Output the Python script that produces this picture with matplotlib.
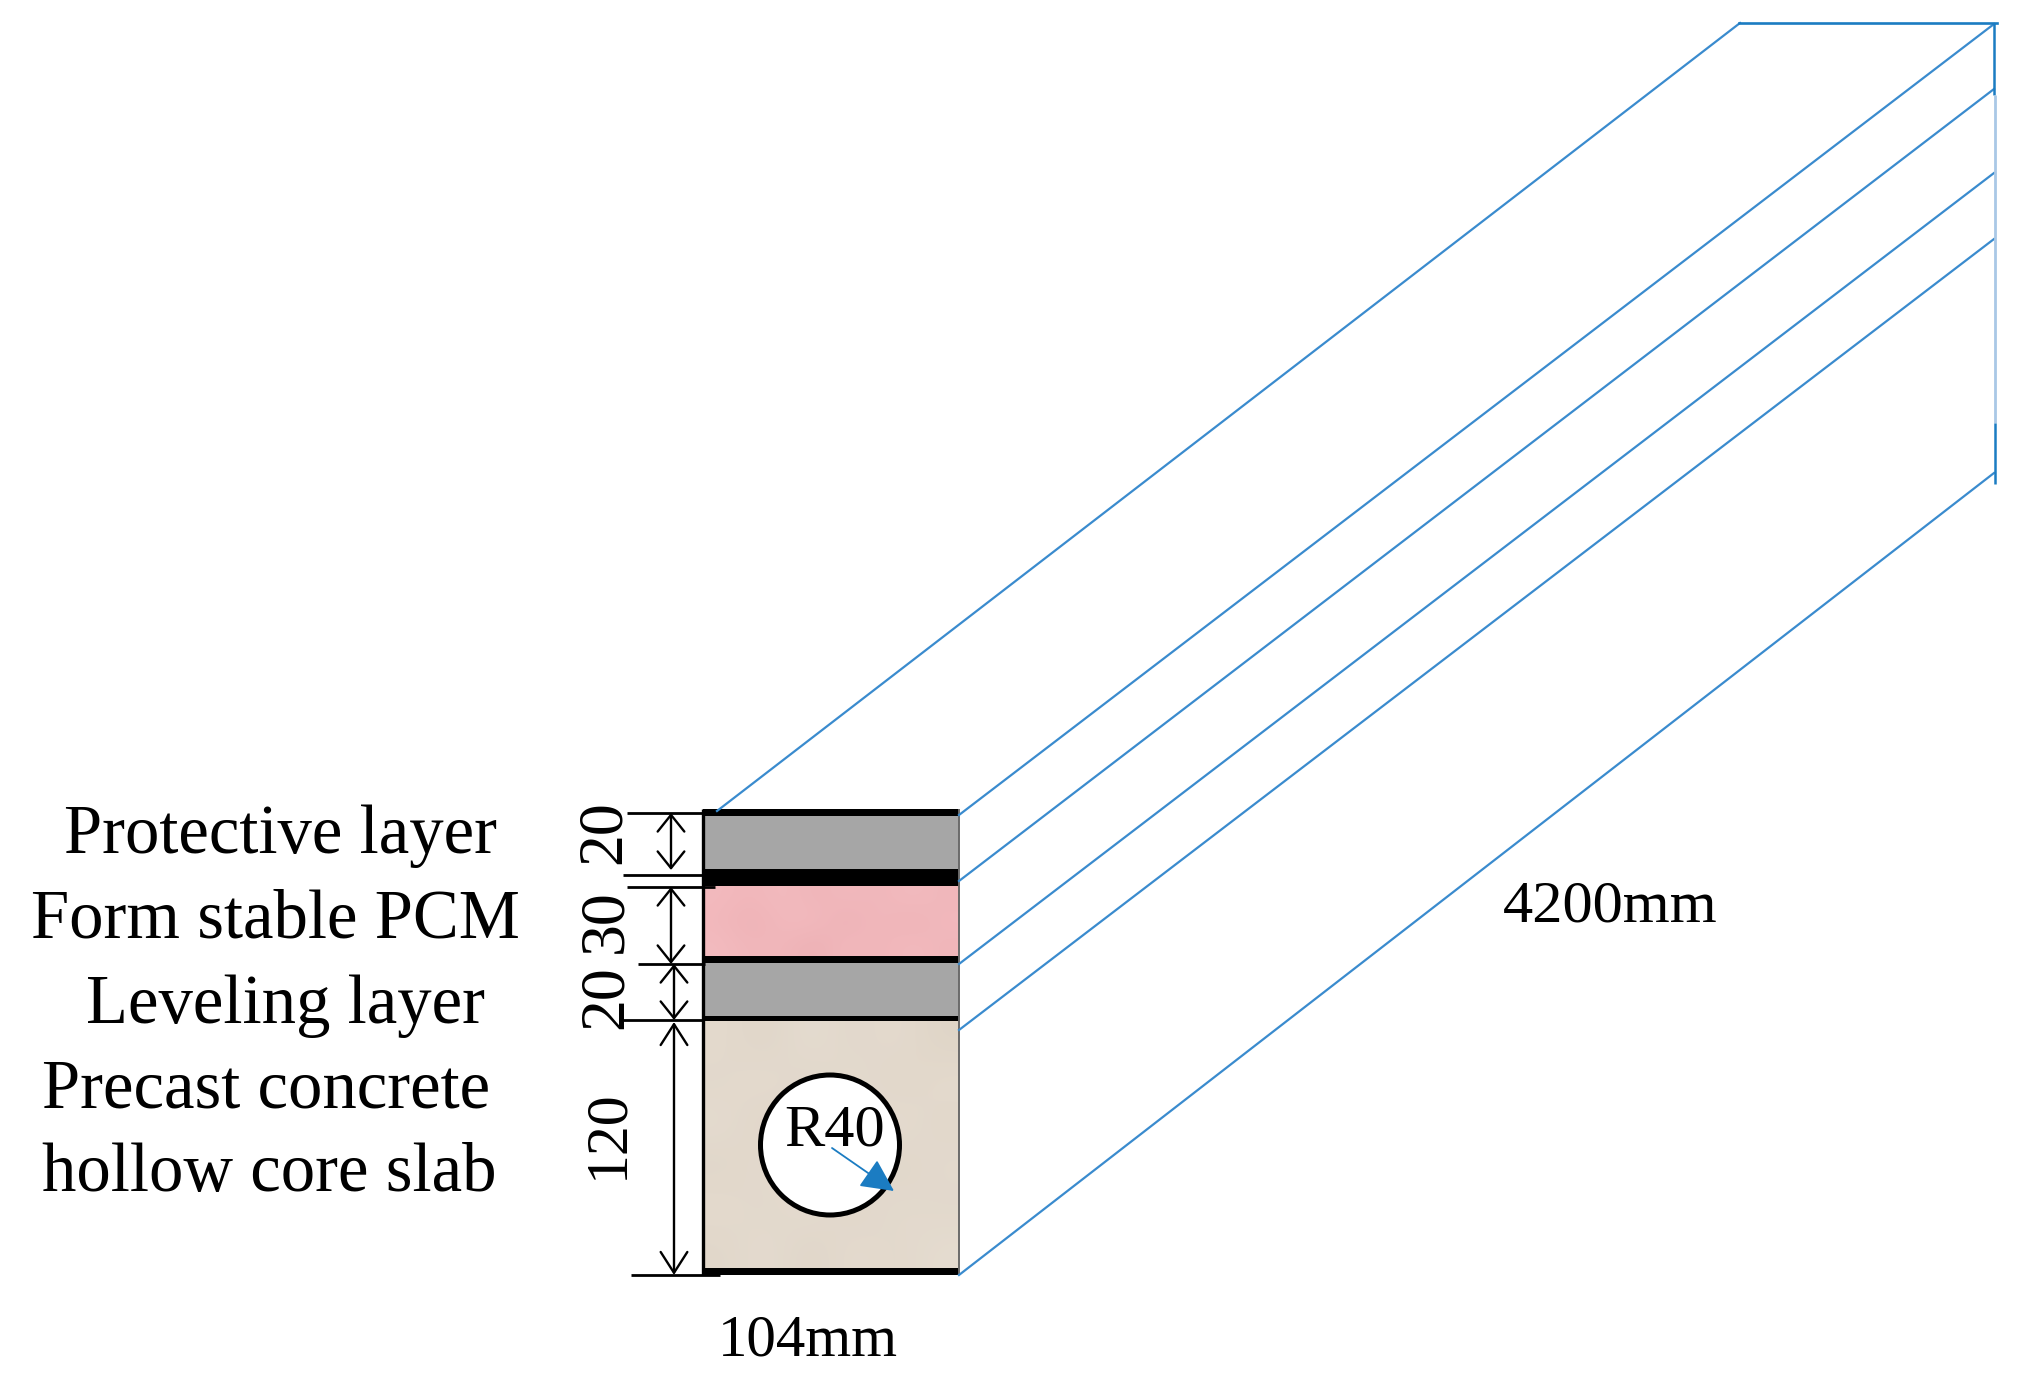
import matplotlib
matplotlib.use("Agg")
import matplotlib.pyplot as plt
from matplotlib.patches import Ellipse, Rectangle

plt.rcParams['font.family'] = ['Liberation Serif', 'DejaVu Serif']

BLUE = '#3a8bce'
DARK_BLUE = '#1b7cc2'
PALE_BLUE = '#a9c8e6'

# gray layers, top to bottom (picture pixels)
gray_tops = [816, 963]
gray_bottoms = [869, 1016]

# black bands between the layers
band_tops = [809, 869, 956, 1016, 1268]
band_bottoms = [816, 886, 963, 1021, 1275]

slab_left = 703
slab_right = 959
hole_x = 830
hole_y = 1145
hole_w = 139
hole_h = 140

# mottling of the two textured layers, read by eye
pink_top = 886
pink_bottom = 956
pink_shades = [
    ['#f3babe', '#f1b6ba', '#f3bbbf', '#efb5b9', '#f2b9bd', '#f0b6ba', '#f3bbbf', '#f0b7bb'],
    ['#f2b8bc', '#eeb2b6', '#f2b9bd', '#f3babe', '#edb1b6', '#f2b9bd', '#eeb3b7', '#f2b9bd'],
    ['#f3bbbf', '#f0b6ba', '#f1b7bb', '#ecb0b4', '#f2b9bd', '#f0b5b9', '#f3babe', '#f0b6ba'],
]
concrete_top = 1021
concrete_bottom = 1268
concrete_shades = [
    ['#e4dacd', '#dfd5c8', '#e6ddd1', '#e1d7ca', '#e5dbcf', '#dfd5c7'],
    ['#e2d8cb', '#e6dcd0', '#e0d6c9', '#e5dcd0', '#e0d5c8', '#e5dbce'],
    ['#e5dcd0', '#dfd4c7', '#e4dbce', '#e2d8cb', '#e6ddd1', '#e1d7ca'],
    ['#e0d6c9', '#e5dbcf', '#e2d8cc', '#e6ddd2', '#dfd5c8', '#e4dace'],
    ['#e5dbce', '#e1d7ca', '#e6ddd1', '#e0d5c8', '#e4dbcf', '#e2d8cb'],
    ['#e1d7ca', '#e5dcd0', '#dfd5c8', '#e5dbcf', '#e2d8cb', '#e5dcd0'],
]

# receding edges of the 4200mm body
edge_x0 = [717, 959, 959, 959, 959, 959]
edge_y0 = [811, 815, 881, 964, 1030, 1275]
edge_x1 = [1740, 1994, 1994, 1994, 1994, 1994]
edge_y1 = [23, 24, 89, 173, 239, 473]

# dimension lines
tick_y = [813, 875, 887, 964, 1020, 1275]
tick_x0 = [627, 623, 627, 638, 620, 631]
tick_x1 = [703, 703, 715, 705, 703, 720]
dim_x = [671, 671, 674, 674]
dim_y0 = [813, 887, 964, 1022]
dim_y1 = [870, 964, 1020, 1275]
dim_head_len = [0.6, 0.6, 0.6, 0.75]
dim_labels = ["20", "30", "20", "120"]
dim_label_x = [605, 606, 607, 608]
dim_label_y = [832, 921, 997, 1134]
dim_label_size = [46, 46, 46, 43]

# labels: text, left edge, baseline, size
text_labels = ["Protective layer", "Form stable PCM", "Leveling layer",
               "Precast concrete", "hollow core slab", "104mm", "4200mm"]
text_x = [64, 31, 86, 42, 42, 718, 1503]
text_y = [853, 938, 1023, 1108, 1191, 1355, 921]
text_size = [49.5, 49.5, 49.5, 49.5, 49.5, 42.5, 43.5]

fig = plt.figure(figsize=(20.26, 13.77), dpi=100)
ax = fig.add_axes([0, 0, 1, 1])

pink_rgb = [[matplotlib.colors.to_rgb(c) for c in row] for row in pink_shades]
concrete_rgb = [[matplotlib.colors.to_rgb(c) for c in row] for row in concrete_shades]
ax.imshow(pink_rgb, extent=(slab_left, slab_right, pink_bottom, pink_top),
          interpolation='bicubic', aspect='auto')
ax.imshow(concrete_rgb, extent=(slab_left, slab_right, concrete_bottom, concrete_top),
          interpolation='bicubic', aspect='auto')

ax.set_xlim(0, 2026)
ax.set_ylim(1377, 0)
ax.axis('off')

for top, bottom in zip(gray_tops, gray_bottoms):
    ax.add_patch(Rectangle((slab_left, top), slab_right - slab_left, bottom - top, fc='#a6a6a6', ec='none'))
for top, bottom in zip(band_tops, band_bottoms):
    ax.add_patch(Rectangle((slab_left, top), slab_right - slab_left, bottom - top, fc='black', ec='none'))

# sides of the section
ax.plot([slab_left, slab_left], [809, 1275], color='black', lw=2.4, solid_capstyle='butt')
ax.plot([slab_right, slab_right], [809, 1275], color='#6a6a6a', lw=1.4, solid_capstyle='butt')

ax.add_patch(Ellipse((hole_x, hole_y), hole_w, hole_h, fc='white', ec='black', lw=3.6))

for x0, y0, x1, y1 in zip(edge_x0, edge_y0, edge_x1, edge_y1):
    ax.plot([x0, x1], [y0, y1], color=BLUE, lw=1.6)
ax.plot([1739, 1997], [23, 23], color=DARK_BLUE, lw=1.9)
ax.plot([1994, 1994], [23, 95], color=DARK_BLUE, lw=1.8, solid_capstyle='butt')
ax.plot([1995, 1995], [95, 423], color=PALE_BLUE, lw=2.0, solid_capstyle='butt')
ax.plot([1995, 1995], [423, 484], color=DARK_BLUE, lw=1.8, solid_capstyle='butt')

for y, x0, x1 in zip(tick_y, tick_x0, tick_x1):
    ax.plot([x0, x1], [y, y], color='black', lw=2.0, solid_capstyle='butt')
for x, y0, y1, hl in zip(dim_x, dim_y0, dim_y1, dim_head_len):
    ax.annotate("", xy=(x, y0), xytext=(x, y1),
                arrowprops=dict(arrowstyle=f'<->,head_length={hl},head_width=0.48', color='black',
                                lw=1.7, shrinkA=0, shrinkB=0, mutation_scale=20))

for s, x, y, fs in zip(dim_labels, dim_label_x, dim_label_y, dim_label_size):
    ax.text(x, y, s, rotation=90, fontsize=fs, ha='center', va='center', color='black')

for s, x, y, fs in zip(text_labels, text_x, text_y, text_size):
    ax.text(x, y, s, fontsize=fs, ha='left', va='baseline', color='black')

ax.text(784, 1145, "R40", fontsize=43.5, ha='left', va='baseline', color='black')
ax.annotate("", xy=(894, 1191), xytext=(832, 1148),
            arrowprops=dict(arrowstyle='-|>,head_length=0.85,head_width=0.42', color=DARK_BLUE,
                            lw=1.3, shrinkA=0, shrinkB=0, mutation_scale=24))

fig.savefig("out.png", dpi=100)
